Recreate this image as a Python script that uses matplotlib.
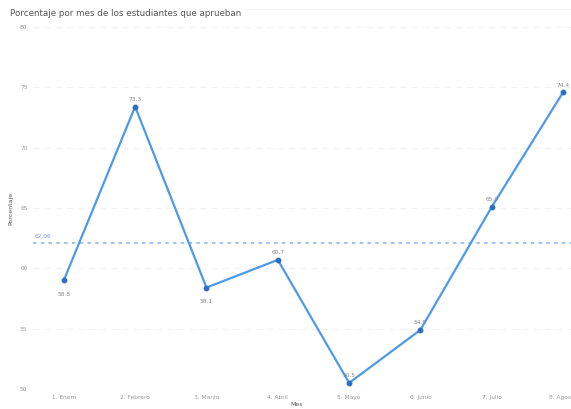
import matplotlib.pyplot as plt
import numpy as np

# porcentaje de aprobados por mes
meses = ['1. Enero', '2. Febrero', '3. Marzo', '4. Abril',
         '5. Mayo', '6. Junio', '7. Julio', '8. Agosto']
porcentaje = [59.0, 73.4, 58.4, 60.7, 50.5, 54.9, 65.1, 74.6]
etiquetas = ['58.8', '73.3', '58.1', '60.7', '50.5', '54.8', '65.0', '74.4']
promedio = 62.06
yticks = [50, 55, 60, 65, 70, 75, 80]

fig = plt.figure(figsize=(5.71, 4.09), dpi=100)
ax = fig.add_axes([0.058, 0.049, 0.942, 0.885])

x = np.arange(len(meses))
ax.plot(x, porcentaje, color='#4d9ae9', lw=1.6, marker='o', ms=3.2,
        mfc='#2f6fc0', mec='#2f6fc0', zorder=3)

# etiquetas de valor, abajo para enero y marzo
for i, (v, t) in enumerate(zip(porcentaje, etiquetas)):
    off = -10 if i in (0, 2) else 5
    ax.annotate(t, (i, v), xytext=(0, off), textcoords='offset points',
                ha='center', va='center', fontsize=4.2, color='#8a8a8a')

ax.axhline(promedio, color='#9cc3f0', lw=1.4, ls=(0, (1.8, 2.2)), zorder=2)
ax.text(-0.41, promedio + 0.35, f'{promedio:.2f}', fontsize=4.2,
        color='#7c9be0', va='bottom', ha='left')

ax.set_xlim(-0.43, 7.11)
ax.set_ylim(50, 80)
ax.set_xticks(x)
ax.set_xticklabels(meses, fontsize=4.2, color='#9a9a9a')
ax.set_yticks(yticks)
ax.set_yticklabels([str(t) for t in yticks], fontsize=4.2, color='#9a9a9a')
ax.tick_params(length=0, pad=4)
ax.grid(axis='y', color='#f3f3f3', lw=0.8, ls=(0, (6, 4)))
ax.set_axisbelow(True)
for s in ax.spines.values():
    s.set_visible(False)

ax.set_xlabel('Mes', fontsize=4.5, color='#555555', labelpad=1)
ax.xaxis.set_label_coords(0.49, -0.035)
ax.set_ylabel('Porcentaje', fontsize=4.5, color='#555555')
ax.yaxis.set_label_coords(-0.036, 0.5)

fig.text(0.018, 0.968, 'Porcentaje por mes de los estudiantes que aprueban',
         fontsize=6.3, color='#555555', va='center')
fig.add_artist(plt.Line2D([0.43, 1.0], [0.978, 0.978], color='#f2f2f2', lw=0.8))

fig.savefig('out.png', dpi=100)
